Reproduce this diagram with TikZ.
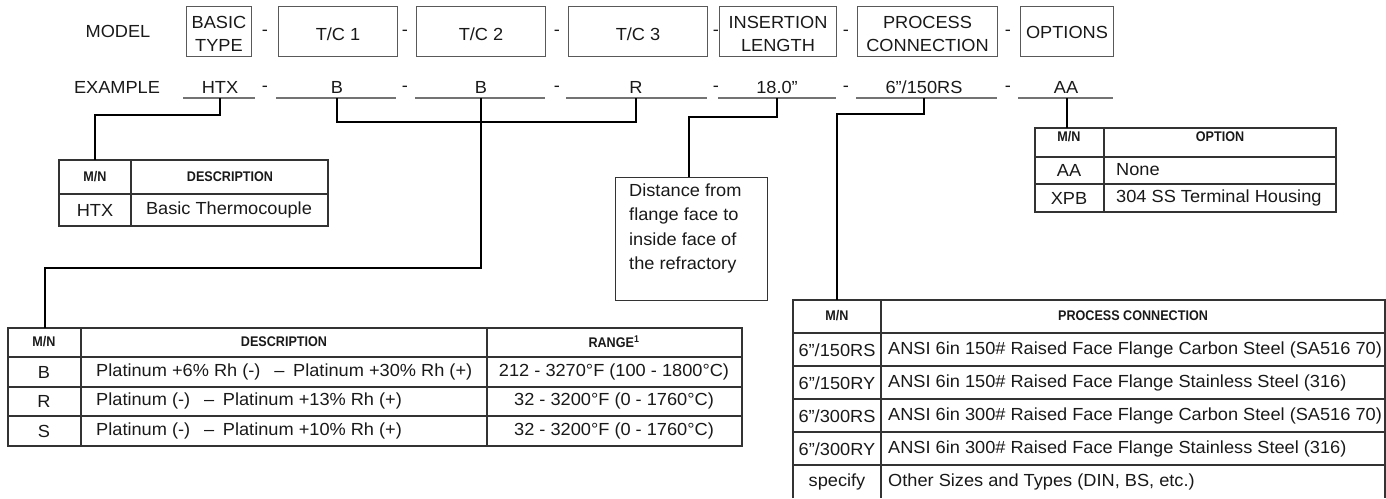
\documentclass[tikz,border=0pt]{standalone}
\usepackage{fontspec}
\setmainfont{Liberation Sans}[FakeStretch=1.04]
\newfontfamily\hdrfont{Liberation Sans}[FakeStretch=0.9]
\begin{document}
\begin{tikzpicture}[x=1pt,y=-1pt,
  lbl/.style={font=\fontsize{17.5}{23}\selectfont, inner sep=0, text=black!90},
  lft/.style={lbl, anchor=west},
  hdr/.style={font=\hdrfont\bfseries\fontsize{14}{16}\selectfont, inner sep=0, text=black!90},
  topbox/.style={draw=black!65, line width=1pt, inner sep=0, anchor=north west, minimum height=50},
  toptxt/.style={lbl, align=center, yshift=-2.5pt},
  grid/.style={draw=black!80, line width=1.3pt},
  conn/.style={draw=black, line width=1.6pt},
  uline/.style={draw=black!55, line width=1.4pt}]
\useasboundingbox (0,0) rectangle (1386,498);

% ---------- top row ----------
\node[lbl] (model) at (118,31) {MODEL};
\node[topbox, minimum width=65] (basic) at (186,6) {};
\node[topbox, minimum width=119] (tca) at (278,6) {};
\node[topbox, minimum width=129] (tcb) at (416,6) {};
\node[topbox, minimum width=139] (tcc) at (568,6) {};
\node[topbox, minimum width=117] (ins) at (719,6) {};
\node[topbox, minimum width=140] (pc) at (857,6) {};
\node[topbox, minimum width=93] (opt) at (1020,6) {};
\node[toptxt] (basict) at (basic.center) {BASIC\\TYPE};
\node[toptxt] (tcat) at (tca.center) {T/C 1};
\node[toptxt] (tcbt) at (tcb.center) {T/C 2};
\node[toptxt] (tcct) at (tcc.center) {T/C 3};
\node[toptxt] (inst) at (ins.center) {INSERTION\\LENGTH};
\node[toptxt] (pct) at (pc.center) {PROCESS\\CONNECTION};
\node[toptxt, yshift=2pt] (optt) at (opt.center) {OPTIONS};
\foreach \x/\n in {265/a,405/b,557/c,716/d,846/e,1008/f}{
  \node[lbl] (td\n) at (\x,33) {-};
  \node[lbl] (ed\n) at (\x,89) {-};
}

% ---------- example row ----------
\node[lbl] (example) at (117,87) {EXAMPLE};
\node[lbl] (htxv) at (220,87) {HTX};
\node[lbl] (tcav) at (337,87) {B};
\node[lbl] (tcbv) at (481,87) {B};
\node[lbl] (tccv) at (636,87) {R};
\node[lbl] (insv) at (777,87) {18.0”};
\node[lbl] (pcv) at (924,87) {6”/150RS};
\node[lbl] (optv) at (1066,87) {AA};
\draw[uline] (183,98) -- (255,98) (276,98) -- (396,98) (415,98) -- (545,98)
  (566,98) -- (707,98) (718,98) -- (836,98) (856,98) -- (997,98) (1018,98) -- (1113,98);

\coordinate (htxU) at (220,98);
\coordinate (tcaU) at (337,98);
\coordinate (tcbU) at (481,98);
\coordinate (tccU) at (636,98);
\coordinate (insU) at (777,98);
\coordinate (pcU) at (924,98);
\coordinate (optU) at (1067,98);

% ---------- HTX table ----------
\draw[grid] (59,160) rectangle (328,226);
\draw[grid] (131,160) -- (131,226) (59,194) -- (328,194);
\node[hdr] (h1mn) at (95,177) {M/N};
\node[hdr] (h1desc) at (230,177) {DESCRIPTION};
\node[lbl] (h1r1) at (95,210) {HTX};
\node[lbl] (h1r1d) at (229,210) {Basic Thermocouple};
\coordinate (htxT) at (95,160);

% ---------- distance box ----------
\node[draw=black!80, line width=1.3pt, minimum width=152, minimum height=123, anchor=north west, inner sep=0] (dist) at (615,177) {};
\node[lbl, anchor=north west, align=left, font=\fontsize{17.5}{24.4}\selectfont] (disttxt) at (629,183.5)
  {Distance from\\flange face to\\inside face of\\the refractory};
\coordinate (distT) at (689,177);

% ---------- options table ----------
\draw[grid] (1035,128) rectangle (1336,212);
\draw[grid] (1104,128) -- (1104,212) (1035,157) -- (1336,157) (1035,184) -- (1336,184);
\node[hdr] (o1mn) at (1069,137) {M/N};
\node[hdr] (o1opt) at (1220,137) {OPTION};
\node[lbl] (o1r1) at (1069,170) {AA};
\node[lft] (o1r1d) at (1116,170) {None};
\node[lbl] (o1r2) at (1069,198) {XPB};
\node[lft] (o1r2d) at (1116,198) {304 SS Terminal Housing};
\coordinate (optT) at (1067,128);

% ---------- thermocouple table ----------
\draw[grid] (8,328) rectangle (742,446);
\draw[grid] (81,328) -- (81,446) (487,328) -- (487,446)
  (8,357) -- (742,357) (8,387) -- (742,387) (8,416) -- (742,416);
\node[hdr] (t1mn) at (44,342) {M/N};
\node[hdr] (t1desc) at (284,342) {DESCRIPTION};
\node[hdr] (t1rng) at (614,342) {RANGE\textsuperscript{1}};
\node[lbl] (t1b) at (44,372) {B};
\node[lft] (t1bd) at (96,372) {Platinum +6\% Rh (-) \enspace–\enspace Platinum +30\% Rh (+)};
\node[lbl] (t1br) at (614,372) {212 - 3270°F (100 - 1800°C)};
\node[lbl] (t1r) at (44,401) {R};
\node[lft] (t1rd) at (96,401) {Platinum (-) \enspace–\enspace Platinum +13\% Rh (+)};
\node[lbl] (t1rr) at (614,401) {32 - 3200°F (0 - 1760°C)};
\node[lbl] (t1s) at (44,431) {S};
\node[lft] (t1sd) at (96,431) {Platinum (-) \enspace–\enspace Platinum +10\% Rh (+)};
\node[lbl] (t1sr) at (614,431) {32 - 3200°F (0 - 1760°C)};
\coordinate (tcT) at (45,328);

% ---------- process connection table ----------
\draw[grid] (793,498) -- (793,300) -- (1385,300) -- (1385,498);
\draw[grid] (881,300) -- (881,498)
  (793,333) -- (1385,333) (793,366) -- (1385,366) (793,399) -- (1385,399)
  (793,432) -- (1385,432) (793,465) -- (1385,465);
\node[hdr] (p1mn) at (837,316) {M/N};
\node[hdr] (p1pc) at (1133,316) {PROCESS CONNECTION};
\node[lbl] (p1a) at (837,350) {6”/150RS};
\node[lft] (p1ad) at (888,350) {ANSI 6in 150\# Raised Face Flange Carbon Steel (SA516 70)};
\node[lbl] (p1b) at (837,383) {6”/150RY};
\node[lft] (p1bd) at (888,383) {ANSI 6in 150\# Raised Face Flange Stainless Steel (316)};
\node[lbl] (p1c) at (837,416) {6”/300RS};
\node[lft] (p1cd) at (888,416) {ANSI 6in 300\# Raised Face Flange Carbon Steel (SA516 70)};
\node[lbl] (p1d) at (837,449) {6”/300RY};
\node[lft] (p1dd) at (888,449) {ANSI 6in 300\# Raised Face Flange Stainless Steel (316)};
\node[lbl] (p1e) at (837,482) {specify};
\node[lft] (p1ed) at (888,482) {Other Sizes and Types (DIN, BS, etc.)};
\coordinate (pcT) at (837,300);

% ---------- connectors ----------
\draw[conn] (htxU) -- ++(0,17) -| (htxT);
\draw[conn] (tcaU) -- ++(0,24) -| (tccU);
\draw[conn] (tcbU) -- ++(0,170) -| (tcT);
\draw[conn] (insU) -- ++(0,19) -| (distT);
\draw[conn] (pcU) -- ++(0,16) -| (pcT);
\draw[conn] (optU) -- (optT);
\end{tikzpicture}
\end{document}
